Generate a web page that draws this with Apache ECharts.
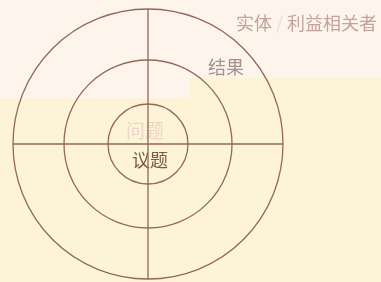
<!DOCTYPE html>
<html>
<head>
<meta charset="utf-8">
<script src="https://cdn.jsdelivr.net/npm/echarts@6/dist/echarts.min.js"></script>
<style>
  html, body { margin: 0; padding: 0; }
  #chart { width: 381px; height: 282px; }
</style>
</head>
<body>
<div id="chart"></div>
<script>
// ring radii (in radius-axis units) and labels
const ringRadii = [40, 84, 135]
const spokeAngles = [0, 90, 180, 270]
const outerLabel = ['实体', '/', '利益相关者']
const middleLabel = '结果'
const innerLabels = ['问题', '议题']

const lineColor = '#93685a'
const font = '"Noto Sans CJK SC", sans-serif'

const chart = echarts.init(document.getElementById('chart'))

chart.setOption({
  backgroundColor: '#fdf3d6',
  animation: false,
  graphic: [
    { type: 'rect', z: -10, shape: { x: 0, y: 0, width: 190, height: 98 }, style: { fill: '#fdf5ec' } },
    { type: 'rect', z: -10, shape: { x: 190, y: 0, width: 191, height: 78 }, style: { fill: '#fdf5ec' } },
    {
      type: 'text', left: 236, top: 14,
      style: {
        text: '{a|' + outerLabel[0] + '}{s|' + outerLabel[1] + '}{a|' + outerLabel[2] + '}',
        rich: {
          a: { font: '18px ' + font, fill: '#c4a29d' },
          s: { font: '18px ' + font, fill: '#eedcd6', padding: [0, 4] }
        }
      }
    },
    { type: 'text', left: 208, top: 58, style: { text: middleLabel, font: '18px ' + font, fill: '#a8918b' } },
    { type: 'text', left: 126, top: 121, style: { text: innerLabels[0], font: '19px ' + font, fill: '#ecd6c8' } },
    { type: 'text', left: 132, top: 151, style: { text: innerLabels[1], font: '18px ' + font, fill: '#7a5a48' } }
  ],
  polar: { center: [148, 144], radius: 135 },
  angleAxis: {
    type: 'value', min: 0, max: 360, interval: 90, startAngle: 90,
    axisLine: { show: false }, axisTick: { show: false }, axisLabel: { show: false },
    splitLine: { show: true, lineStyle: { color: lineColor, width: 1.3 } }
  },
  radiusAxis: {
    type: 'value', min: 0, max: 135,
    axisLine: { show: false }, axisTick: { show: false }, axisLabel: { show: false },
    splitLine: { show: false }
  },
  series: [{
    type: 'custom',
    coordinateSystem: 'polar',
    data: ringRadii.map(r => [r, spokeAngles[0]]),
    renderItem: (params, api) => {
      const cs = params.coordSys
      const p = api.coord([api.value(0), api.value(1)])
      const r = Math.hypot(p[0] - cs.cx, p[1] - cs.cy)
      return {
        type: 'circle',
        shape: { cx: cs.cx, cy: cs.cy, r },
        style: { fill: 'none', stroke: lineColor, lineWidth: 1.3 }
      }
    }
  }]
})
</script>
</body>
</html>
